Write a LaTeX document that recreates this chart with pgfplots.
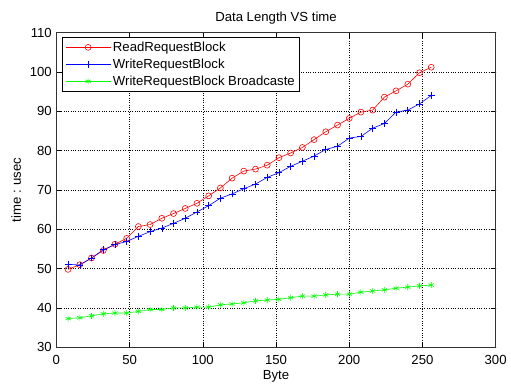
\documentclass[border=0pt]{standalone}
\usepackage{fontspec}
\setmainfont{Liberation Sans}
\usepackage{pgfplots}
\pgfplotsset{compat=1.18}
\newcommand\fs{\fontsize{13.3pt}{15pt}\selectfont}
\begin{document}
\fs
\begin{tikzpicture}
\begin{axis}[
  scale only axis,
  width=444pt, height=318pt,
  xmin=0, xmax=300, ymin=30, ymax=110,
  xtick={0,50,...,300}, ytick={30,40,...,110},
  /pgf/number format/assume math mode=true,
  tick style={black, thin},
  tick align=inside,
  major tick length=5pt,
  grid=major,
  major grid style={black, dotted, line width=0.5pt},
  axis line style={black!80, line width=0.7pt},
  title={Data Length VS time},
  title style={yshift=-2pt, font=\fs},
  xlabel={Byte}, ylabel={time : usec},
  label style={font=\fs},
  xlabel style={yshift=4pt},
  ylabel style={yshift=0pt},
  xticklabel shift=4pt,
  legend style={at={(0.013,0.985)}, anchor=north west, draw=black, line width=0.6pt, font=\fs, row sep=1.5pt, inner xsep=3pt, inner ysep=2pt},
  legend cell align=left,
  legend image code/.code={
    \draw[mark repeat=2,mark phase=2,#1] plot coordinates {(0cm,0cm)(0.8cm,0cm)(1.6cm,0cm)};},
  tick label style={font=\fs},
]
\addplot[color=red, line width=0.6pt, mark=o, mark size=3pt, mark options={solid, draw=red}] coordinates {
(8,49.8)(16,51.0)(24,52.7)(32,54.6)(40,56.2)(48,57.7)(56,60.7)(64,61.2)
(72,62.8)(80,64.0)(88,65.3)(96,66.6)(104,68.5)(112,70.5)(120,73.0)(128,74.8)
(136,75.3)(144,76.3)(152,78.2)(160,79.4)(168,80.8)(176,82.8)(184,84.8)(192,86.5)
(200,88.2)(208,89.8)(216,90.3)(224,93.6)(232,95.2)(240,96.9)(248,99.8)(256,101.2)};
\addlegendentry{ReadRequestBlock}
\addplot[color=blue, line width=0.6pt, mark=+, mark size=3.5pt, mark options={solid, draw=blue}] coordinates {
(8,51.1)(16,50.9)(24,52.7)(32,54.8)(40,56.1)(48,56.9)(56,58.2)(64,59.4)
(72,60.3)(80,61.5)(88,62.8)(96,64.4)(104,66.0)(112,67.9)(120,69.0)(128,70.3)
(136,71.5)(144,73.2)(152,74.4)(160,76.0)(168,77.3)(176,78.6)(184,80.3)(192,81.1)
(200,83.2)(208,83.6)(216,85.7)(224,86.9)(232,89.8)(240,90.3)(248,91.9)(256,94.0)};
\addlegendentry{WriteRequestBlock}
\addplot[color=green, line width=0.6pt, mark=asterisk, mark size=3pt, mark options={solid, draw=green}] coordinates {
(8,37.3)(16,37.5)(24,38.0)(32,38.5)(40,38.7)(48,38.7)(56,39.1)(64,39.6)
(72,39.6)(80,40.0)(88,40.0)(96,40.2)(104,40.2)(112,40.8)(120,41.0)(128,41.3)
(136,41.8)(144,42.0)(152,42.2)(160,42.6)(168,43.0)(176,43.0)(184,43.3)(192,43.5)
(200,43.5)(208,44.0)(216,44.3)(224,44.6)(232,45.0)(240,45.3)(248,45.6)(256,45.8)};
\addlegendentry{WriteRequestBlock Broadcaste}
\end{axis}
\path[use as bounding box] (current axis.south west) ++(-57pt,-30pt) rectangle ++(511pt,381pt);
\end{tikzpicture}
\end{document}
